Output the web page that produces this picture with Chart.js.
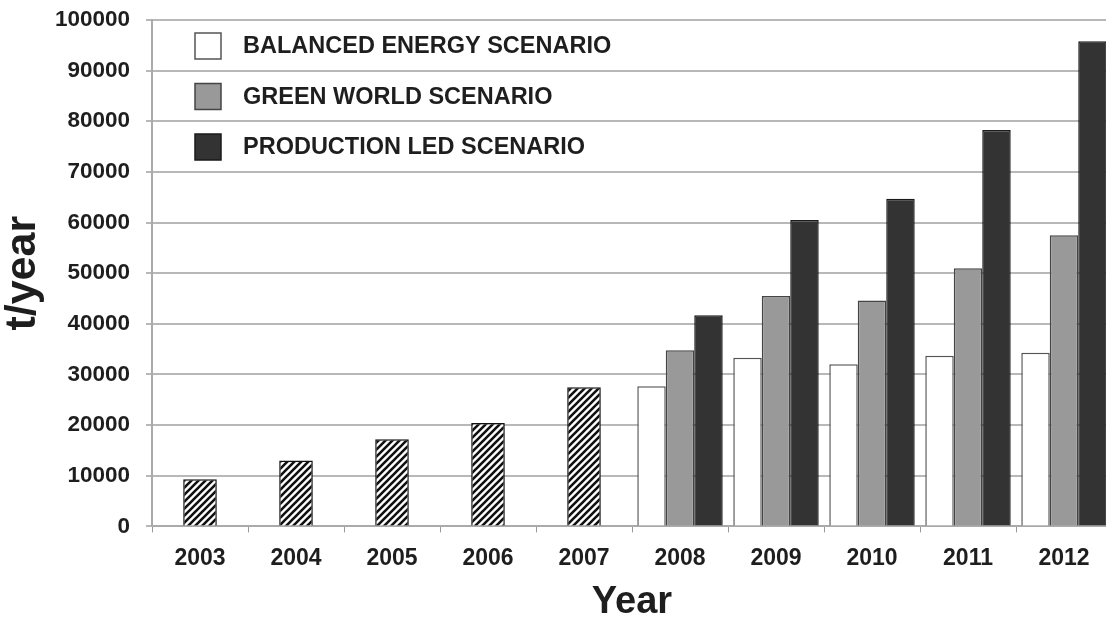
<!DOCTYPE html>
<html>
<head>
<meta charset="utf-8">
<script src="https://cdn.jsdelivr.net/npm/chart.js@4/dist/chart.umd.min.js"></script>
<style>
  html, body { margin: 0; padding: 0; background: #fff; overflow: hidden; }
  #wrap { width: 1112px; height: 624px; }
</style>
</head>
<body>
<div id="wrap"><canvas id="chart"></canvas></div>
<script>
const years = ["2003", "2004", "2005", "2006", "2007", "2008", "2009", "2010", "2011", "2012"];
const historical = [9300, 13000, 17200, 20400, 27500, null, null, null, null, null];
const balanced = [null, null, null, null, null, 27700, 33300, 32000, 33700, 34300];
const greenWorld = [null, null, null, null, null, 34800, 45500, 44600, 51000, 57500];
const productionLed = [null, null, null, null, null, 41700, 60500, 64700, 78300, 95800];
const yTicks = [0, 10000, 20000, 30000, 40000, 50000, 60000, 70000, 80000, 90000, 100000];

const FONT = "'Liberation Sans', Arial, sans-serif";

// diagonal hatch for the historical bars
function hatch() {
  const c = document.createElement("canvas");
  c.width = 7;
  c.height = 7;
  const g = c.getContext("2d");
  g.fillStyle = "#fff";
  g.fillRect(0, 0, 7, 7);
  g.strokeStyle = "#111";
  g.lineWidth = 2.6;
  g.beginPath();
  g.moveTo(-1, 8); g.lineTo(8, -1);
  g.moveTo(-8, 8); g.lineTo(1, -1);
  g.moveTo(6, 8); g.lineTo(15, -1);
  g.stroke();
  return g.createPattern(c, "repeat");
}

// legend drawn inside the plot, top left
const insideLegend = {
  id: "insideLegend",
  afterDraw(chart) {
    const ctx = chart.ctx;
    const a = chart.chartArea;
    const items = chart.data.datasets.filter(d => d.label !== "HISTORICAL");
    ctx.save();
    ctx.font = "bold 23.5px " + FONT;
    ctx.textBaseline = "middle";
    items.forEach((d, i) => {
      const cy = a.top + 26 + i * 50.5;
      ctx.fillStyle = d.backgroundColor;
      ctx.fillRect(a.left + 43, cy - 13, 26, 26);
      ctx.strokeStyle = d.borderColor;
      ctx.lineWidth = 1.5;
      ctx.strokeRect(a.left + 43, cy - 13, 26, 26);
      ctx.fillStyle = "#1e1e1e";
      ctx.fillText(d.label, a.left + 91, cy + 1);
    });
    ctx.restore();
  }
};

new Chart(document.getElementById("chart"), {
  type: "bar",
  data: {
    labels: years,
    datasets: [
      {
        label: "HISTORICAL",
        data: historical,
        backgroundColor: hatch(),
        borderColor: "#111",
        borderWidth: 1.5,
        skipNull: true,
        categoryPercentage: 0.35,
        barPercentage: 1.0,
      },
      {
        label: "BALANCED ENERGY SCENARIO",
        data: balanced,
        backgroundColor: "#ffffff",
        borderColor: "#555",
        borderWidth: 1.5,
        skipNull: true,
        categoryPercentage: 0.89,
        barPercentage: 1.0,
      },
      {
        label: "GREEN WORLD SCENARIO",
        data: greenWorld,
        backgroundColor: "#999999",
        borderColor: "#444",
        borderWidth: 1.5,
        skipNull: true,
        categoryPercentage: 0.89,
        barPercentage: 1.0,
      },
      {
        label: "PRODUCTION LED SCENARIO",
        data: productionLed,
        backgroundColor: "#333333",
        borderColor: "#1a1a1a",
        borderWidth: 1.5,
        skipNull: true,
        categoryPercentage: 0.89,
        barPercentage: 1.0,
      },
    ],
  },
  options: {
    responsive: true,
    maintainAspectRatio: false,
    animation: false,
    layout: { padding: { top: 20, right: 0, bottom: 0, left: 2 } },
    plugins: {
      legend: { display: false },
      tooltip: { enabled: false },
    },
    scales: {
      x: {
        offset: true,
        grid: {
          display: true,
          offset: true,
          drawOnChartArea: false,
          tickLength: 6,
          color: "#999",
        },
        border: { color: "#aaa", width: 2 },
        ticks: {
          color: "#1e1e1e",
          font: { family: FONT, size: 23, weight: "bold" },
          padding: 12,
        },
        title: {
          display: true,
          text: "Year",
          color: "#1e1e1e",
          font: { family: FONT, size: 38, weight: "bold", lineHeight: 1.0 },
          padding: { top: 0, bottom: 2 },
        },
      },
      y: {
        min: 0,
        max: 100000,
        afterBuildTicks(axis) {
          axis.ticks = yTicks.map(v => ({ value: v }));
        },
        afterFit(scale) {
          scale.width = 150;
          scale.paddingTop = 0;
        },
        grid: {
          color: "#b8b8b8",
          lineWidth: 2,
          tickLength: 6,
        },
        border: { color: "#aaa", width: 2 },
        ticks: {
          color: "#1e1e1e",
          font: { family: FONT, size: 22.5, weight: "bold" },
          padding: 16,
          callback: v => String(v),
        },
        title: {
          display: true,
          text: "t/year",
          color: "#1e1e1e",
          font: { family: FONT, size: 43, weight: "bold", lineHeight: 1.0 },
          padding: { top: 0, bottom: 0 },
        },
      },
    },
  },
  plugins: [insideLegend],
});
</script>
</body>
</html>
